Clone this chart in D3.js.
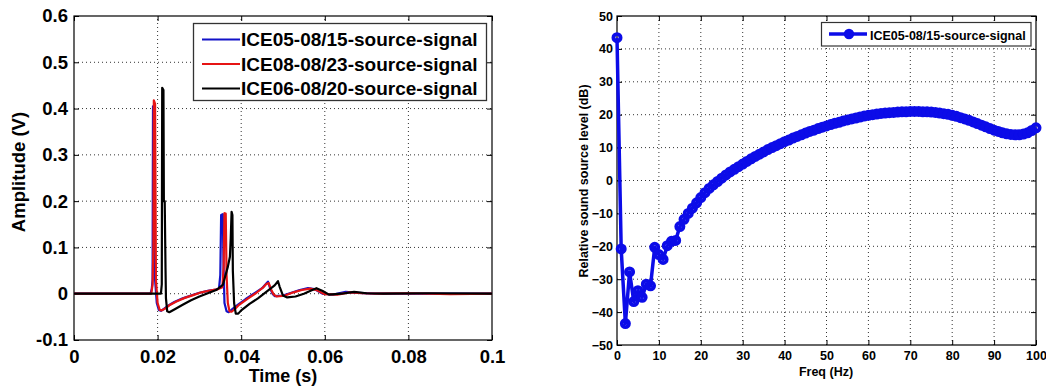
<!DOCTYPE html>
<html>
<head>
<meta charset="utf-8">
<script src="https://cdn.jsdelivr.net/npm/d3@7"></script>
<style>
body { margin: 0; background: #fff; }
svg text { font-family: "Liberation Sans", Arial, sans-serif; font-weight: bold; fill: #000; }
.grid line { stroke: #333; stroke-width: 1; stroke-dasharray: 1,3; }
.box { fill: none; stroke: #000; stroke-width: 1.2; }
.ticks line { stroke: #000; stroke-width: 1; }
</style>
</head>
<body>
<svg id="chart" width="1046" height="387"></svg>
<script>
// ---- left panel: source signals (time domain)
var timeTicks = [0, 0.02, 0.04, 0.06, 0.08, 0.1];
var timeTickLabels = ['0', '0.02', '0.04', '0.06', '0.08', '0.1'];
var ampTicks = [-0.1, 0, 0.1, 0.2, 0.3, 0.4, 0.5, 0.6];
var ampTickLabels = ['-0.1', '0', '0.1', '0.2', '0.3', '0.4', '0.5', '0.6'];
var signalNames = ['ICE05-08/15-source-signal', 'ICE08-08/23-source-signal', 'ICE06-08/20-source-signal'];

// [time (s), amplitude (V)]
var ice05 = [[0, 0], [0.0183, 0], [0.0186, 0.01], [0.0188, 0.03], [0.0189, 0.405], [0.0192, 0.4], [0.0194, 0.03],
    [0.0198, -0.02], [0.0203, -0.035], [0.0208, -0.037], [0.0215, -0.033], [0.0225, -0.026], [0.024, -0.018],
    [0.026, -0.01], [0.028, -0.004], [0.03, 0.002], [0.032, 0.006], [0.034, 0.009], [0.0347, 0.012], [0.035, 0.04],
    [0.0352, 0.17], [0.0356, 0.172], [0.0358, 0.05], [0.036, -0.02], [0.0365, -0.038], [0.037, -0.04],
    [0.0378, -0.034], [0.039, -0.025], [0.041, -0.012], [0.043, 0.0], [0.045, 0.012], [0.046, 0.022],
    [0.0464, 0.026], [0.047, 0.01], [0.0475, 0.0], [0.048, -0.005], [0.05, -0.004], [0.052, 0.002],
    [0.054, 0.008], [0.056, 0.012], [0.0575, 0.01], [0.0595, 0.0], [0.062, -0.002], [0.065, 0.004],
    [0.068, 0.002], [0.072, 0], [0.1, 0]];
var ice08 = [[0, 0], [0.0185, 0], [0.0188, 0.02], [0.019, 0.1], [0.0191, 0.418], [0.0194, 0.41], [0.0196, 0.03],
    [0.02, -0.02], [0.0205, -0.035], [0.021, -0.036], [0.0218, -0.032], [0.0228, -0.025], [0.0245, -0.017],
    [0.0265, -0.009], [0.0285, -0.003], [0.0305, 0.003], [0.0325, 0.007], [0.0345, 0.01], [0.0355, 0.014],
    [0.0358, 0.06], [0.036, 0.174], [0.0363, 0.173], [0.0365, 0.04], [0.0368, -0.02], [0.0372, -0.038],
    [0.0377, -0.039], [0.0385, -0.033], [0.0395, -0.024], [0.0415, -0.011], [0.0435, 0.001], [0.0452, 0.013],
    [0.046, 0.021], [0.0466, 0.023], [0.0472, 0.008], [0.0478, -0.002], [0.0485, -0.006], [0.0505, -0.004],
    [0.0525, 0.003], [0.0545, 0.008], [0.0565, 0.011], [0.058, 0.008], [0.06, -0.001], [0.063, -0.002],
    [0.066, 0.003], [0.069, 0.001], [0.073, 0], [0.08, 0.001], [0.09, -0.001], [0.1, 0]];
var ice06 = [[0, 0], [0.0208, 0], [0.021, 0.02], [0.0211, 0.445], [0.0214, 0.44], [0.0215, 0.2], [0.0217, 0.2],
    [0.0219, 0.05], [0.022, -0.01], [0.0223, -0.038], [0.0228, -0.04], [0.024, -0.034], [0.026, -0.024],
    [0.028, -0.014], [0.03, -0.006], [0.032, 0.001], [0.034, 0.008], [0.0356, 0.019], [0.0368, 0.058],
    [0.0373, 0.08], [0.0375, 0.12], [0.0377, 0.177], [0.0379, 0.17], [0.038, 0.05], [0.0383, -0.02],
    [0.0387, -0.043], [0.0393, -0.043], [0.04, -0.036], [0.042, -0.022], [0.044, -0.01], [0.046, 0.004],
    [0.048, 0.018], [0.0488, 0.027], [0.0492, 0.015], [0.05, -0.004], [0.051, -0.008], [0.053, -0.006],
    [0.055, 0.0], [0.057, 0.008], [0.058, 0.012], [0.0595, 0.006], [0.061, -0.002], [0.064, 0.0],
    [0.067, 0.004], [0.07, 0.001], [0.074, 0], [0.085, 0.001], [0.1, 0]];

// ---- right panel: relative source level spectrum
var freqTicks = [0, 10, 20, 30, 40, 50, 60, 70, 80, 90, 100];
var levelTicks = [-50, -40, -30, -20, -10, 0, 10, 20, 30, 40, 50];
var spectrumName = 'ICE05-08/15-source-signal';
var freqHz = [0, 1, 2, 3, 4, 5, 6, 7, 8, 9, 10, 11, 12, 13, 14, 15, 16, 17, 18, 19, 20,
    21, 22, 23, 24, 25, 26, 27, 28, 29, 30, 31, 32, 33, 34, 35, 36, 37, 38, 39, 40,
    41, 42, 43, 44, 45, 46, 47, 48, 49, 50, 51, 52, 53, 54, 55, 56, 57, 58, 59, 60,
    61, 62, 63, 64, 65, 66, 67, 68, 69, 70, 71, 72, 73, 74, 75, 76, 77, 78, 79, 80,
    81, 82, 83, 84, 85, 86, 87, 88, 89, 90, 91, 92, 93, 94, 95, 96, 97, 98, 99, 100];
var levelDb = [43.4, -20.8, -43.5, -27.8, -36.8, -33.5, -35.5, -31.5, -32, -20.3, -22.5,
    -24, -19.8, -18.5, -18.2, -14, -11.8, -10, -8.4, -6.8, -5.2,
    -3.7, -2.4, -1.3, -0.3, 0.7, 1.7, 2.6, 3.4, 4.2, 5.0,
    5.8, 6.6, 7.3, 8.0, 8.7, 9.4, 10.0, 10.6, 11.2, 11.8,
    12.3, 12.9, 13.4, 13.9, 14.4, 14.9, 15.3, 15.8, 16.2, 16.6,
    17.0, 17.4, 17.7, 18.1, 18.4, 18.7, 19.0, 19.3, 19.6, 19.8,
    20.0, 20.2, 20.4, 20.5, 20.6, 20.7, 20.8, 20.9, 20.9, 21.0,
    21.0, 21.0, 20.9, 20.9, 20.8, 20.7, 20.5, 20.3, 20.1, 19.8,
    19.5, 19.1, 18.7, 18.3, 17.8, 17.3, 16.8, 16.3, 15.8, 15.3,
    14.9, 14.5, 14.2, 14.0, 13.9, 13.9, 14.1, 14.5, 15.2, 16.0];

var lineColors = ['#1212c8', '#e61414', '#000'];
var specColor = '#0c0ce8';

var svg = d3.select('#chart');

function frame(g, x, y, xt, yt, opt) {
    var x0 = x.range()[0], x1 = x.range()[1];
    var y0 = y.range()[0], y1 = y.range()[1];

    // dotted grid
    var grid = g.append('g').attr('class', 'grid');
    grid.selectAll('.gx').data(xt.slice(1, -1)).enter().append('line')
        .attr('x1', x).attr('x2', x).attr('y1', y0).attr('y2', y1);
    grid.selectAll('.gy').data(yt.slice(1, -1)).enter().append('line')
        .attr('y1', y).attr('y2', y).attr('x1', x0).attr('x2', x1);

    // inward ticks on all four sides, labels on bottom/left
    var fmtX = opt.xLabels ? function (d, i) { return opt.xLabels[i]; } : d3.format('d');
    var fmtY = opt.yLabels ? function (d, i) { return opt.yLabels[i]; } : d3.format('d');
    var bottom = g.append('g').attr('class', 'ticks').attr('transform', 'translate(0,' + y0 + ')')
        .call(d3.axisBottom(x).tickValues(xt).tickFormat(fmtX).tickSizeInner(-5).tickSizeOuter(0).tickPadding(opt.padX));
    var left = g.append('g').attr('class', 'ticks').attr('transform', 'translate(' + x0 + ',0)')
        .call(d3.axisLeft(y).tickValues(yt).tickFormat(fmtY).tickSizeInner(-5).tickSizeOuter(0).tickPadding(opt.padY));
    g.append('g').attr('class', 'ticks').attr('transform', 'translate(0,' + y1 + ')')
        .call(d3.axisTop(x).tickValues(xt).tickFormat('').tickSizeInner(-5).tickSizeOuter(0));
    g.append('g').attr('class', 'ticks').attr('transform', 'translate(' + x1 + ',0)')
        .call(d3.axisRight(y).tickValues(yt).tickFormat('').tickSizeInner(-5).tickSizeOuter(0));
    g.selectAll('.ticks .domain').remove();
    g.selectAll('.ticks text').attr('font-size', opt.font).attr('font-family', null).attr('fill', '#000');
    bottom.selectAll('text').attr('y', opt.padX);
    left.selectAll('text').attr('x', -opt.padY);

    g.append('rect').attr('class', 'box')
        .attr('x', x0).attr('y', y1).attr('width', x1 - x0).attr('height', y0 - y1);
}

// ---------- left panel
var xT = d3.scaleLinear().domain([0, 0.1]).range([74, 492]);
var yA = d3.scaleLinear().domain([-0.1, 0.6]).range([340, 16]);
var gL = svg.append('g');
frame(gL, xT, yA, timeTicks, ampTicks, {
    xLabels: timeTickLabels, yLabels: ampTickLabels, font: 18.5, padX: 10, padY: 6
});

svg.append('clipPath').attr('id', 'clipL').append('rect')
    .attr('x', 74).attr('y', 16).attr('width', 418).attr('height', 324);
var line = d3.line().x(function (d) { return xT(d[0]); }).y(function (d) { return yA(d[1]); });
gL.append('g').attr('clip-path', 'url(#clipL)')
    .selectAll('path').data([ice05, ice08, ice06]).enter().append('path')
    .attr('d', line)
    .attr('fill', 'none')
    .attr('stroke', function (d, i) { return lineColors[i]; })
    .attr('stroke-width', 2.2)
    .attr('stroke-linejoin', 'round');

// legend
var lg = gL.append('g');
lg.append('rect').attr('x', 193.5).attr('y', 23.5).attr('width', 293).attr('height', 77)
    .attr('fill', '#fff').attr('stroke', '#333').attr('stroke-width', 1.3);
signalNames.forEach(function (name, i) {
    var cy = 39.5 + i * 24.5;
    lg.append('line').attr('x1', 202).attr('x2', 240).attr('y1', cy).attr('y2', cy)
        .attr('stroke', lineColors[i]).attr('stroke-width', 2);
    lg.append('text').attr('x', 241).attr('y', cy + 6.8).attr('font-size', 19).text(name);
});

gL.append('text').attr('x', 283).attr('y', 382).attr('text-anchor', 'middle')
    .attr('font-size', 18).text('Time (s)');
gL.append('text').attr('transform', 'translate(25,172) rotate(-90)').attr('text-anchor', 'middle')
    .attr('font-size', 18.5).text('Amplitude (V)');

// ---------- right panel
var xF = d3.scaleLinear().domain([0, 100]).range([617, 1036]);
var yL = d3.scaleLinear().domain([-50, 50]).range([345, 16]);
var gR = svg.append('g');
frame(gR, xF, yL, freqTicks, levelTicks, { font: 12.5, padX: 6, padY: 4 });

var spec = freqHz.map(function (f, i) { return [f, levelDb[i]]; });
var sline = d3.line().x(function (d) { return xF(d[0]); }).y(function (d) { return yL(d[1]); });
gR.append('path').datum(spec).attr('d', sline)
    .attr('fill', 'none').attr('stroke', specColor).attr('stroke-width', 3.5).attr('stroke-linejoin', 'round');
gR.append('g').selectAll('circle').data(spec).enter().append('circle')
    .attr('cx', function (d) { return xF(d[0]); })
    .attr('cy', function (d) { return yL(d[1]); })
    .attr('r', 3.6)
    .attr('fill', 'none').attr('stroke', specColor).attr('stroke-width', 3.8);

var lr = gR.append('g');
lr.append('rect').attr('x', 821.5).attr('y', 22.5).attr('width', 209.5).attr('height', 23.5)
    .attr('fill', '#fff').attr('stroke', '#333').attr('stroke-width', 1.2);
lr.append('line').attr('x1', 829).attr('x2', 867).attr('y1', 34).attr('y2', 34)
    .attr('stroke', specColor).attr('stroke-width', 3.5);
lr.append('circle').attr('cx', 849).attr('cy', 34).attr('r', 4.2)
    .attr('fill', specColor).attr('stroke', specColor).attr('stroke-width', 2);
lr.append('text').attr('x', 870).attr('y', 40).attr('font-size', 12.5).text(spectrumName);

gR.append('text').attr('x', 826).attr('y', 376).attr('text-anchor', 'middle')
    .attr('font-size', 12.5).text('Freq (Hz)');
gR.append('text').attr('transform', 'translate(588,181) rotate(-90)').attr('text-anchor', 'middle')
    .attr('font-size', 12.5).text('Relative sound source level (dB)');
</script>
</body>
</html>
